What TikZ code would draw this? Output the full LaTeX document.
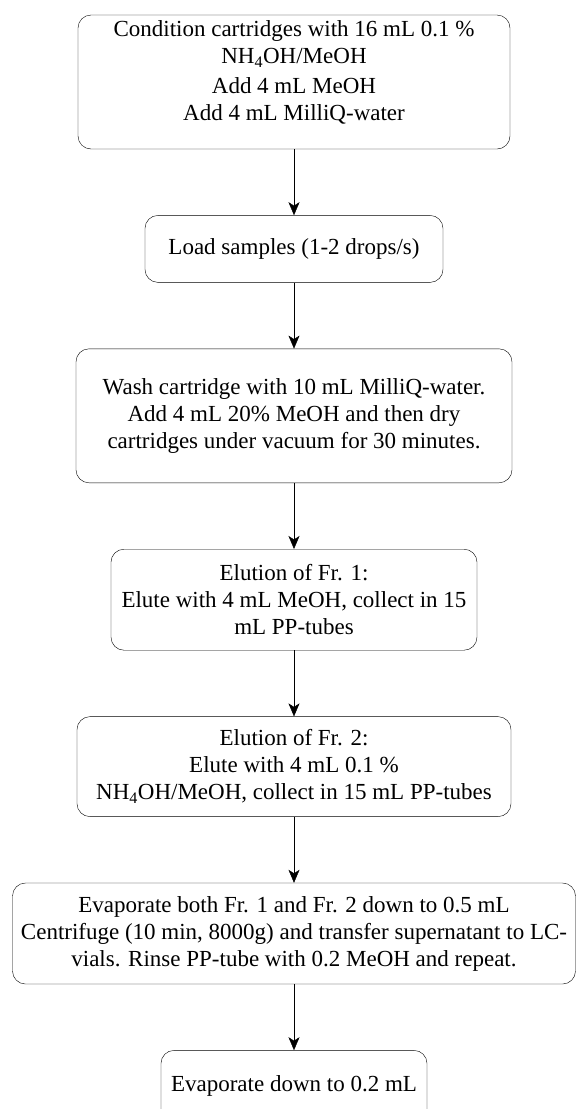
\documentclass[tikz,border=0pt]{standalone}
\usepackage{fontspec}
\setmainfont{Liberation Serif}
\usepackage{tikz}
\usetikzlibrary{positioning, arrows.meta}
\tikzset{
->, % makes the edges directed
>={Stealth[length=13pt,width=11pt,inset=3.5pt]}, % arrow heads
node distance=66pt, % gap between two steps
line width=2.2pt,
stepbox/.style={draw, rounded corners=13pt, align=center, inner xsep=3pt, font=\fontsize{23}{27}\selectfont}, % every step of the procedure
}

\begin{document}
\begin{tikzpicture}
        \useasboundingbox (0,0) rectangle (576pt,-1109pt);
        \node[stepbox, minimum width=432pt, minimum height=134pt, text depth=22pt] (cond) at (294pt,-82pt)
            {Condition cartridges with 16 mL 0.1 \%\\NH\textsubscript{4}OH/MeOH\\[3pt]Add 4 mL MeOH\\Add 4 mL MilliQ-water};
        \node[stepbox, minimum width=298pt, minimum height=67pt, below=of cond] (load)
            {Load samples (1-2 drops/s)};
        \node[stepbox, minimum width=436pt, minimum height=134pt, below=of load] (wash)
            {Wash cartridge with 10 mL MilliQ-water.\\Add 4 mL 20\% MeOH and then dry\\cartridges under vacuum for 30 minutes.};
        \node[stepbox, minimum width=366pt, minimum height=101pt, below=of wash] (elu1)
            {Elution of Fr. 1:\\Elute with 4 mL MeOH, collect in 15\\mL PP-tubes};
        \node[stepbox, minimum width=434pt, minimum height=100pt, below=of elu1] (elu2)
            {Elution of Fr. 2:\\Elute with 4 mL 0.1 \%\\NH\textsubscript{4}OH/MeOH, collect in 15 mL PP-tubes};
        \node[stepbox, minimum width=563pt, minimum height=101pt, inner xsep=1pt, below=of elu2] (evap)
            {Evaporate both Fr. 1 and Fr. 2 down to 0.5 mL\\Centrifuge (10 min, 8000g) and transfer supernatant to LC-\\vials. Rinse PP-tube with 0.2 MeOH and repeat.};
        \node[stepbox, minimum width=266pt, minimum height=72pt, below=of evap] (final)
            {Evaporate down to 0.2 mL};
        
        \draw
        (cond) edge (load)
        (load) edge (wash)
        (wash) edge (elu1)
        (elu1) edge (elu2)
        (elu2) edge (evap)
        (evap) edge (final);
    \end{tikzpicture}
\end{document}
